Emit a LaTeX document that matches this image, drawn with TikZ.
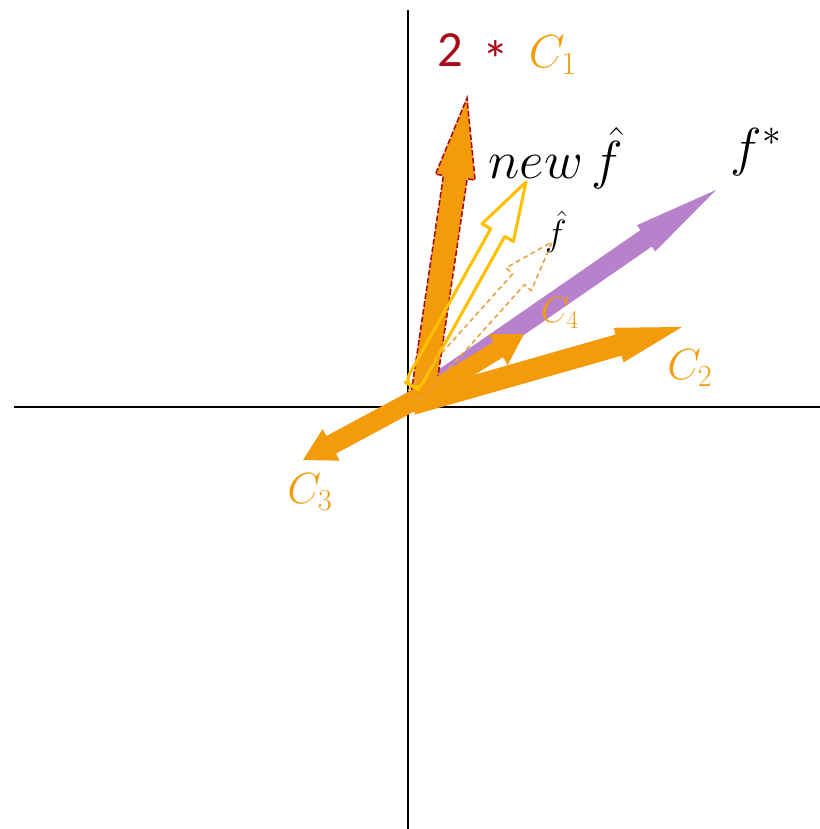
\RequirePackage{fix-cm}
\documentclass[tikz,border=0pt]{standalone}
\usepackage{amsmath,amssymb}
\usepackage{fontspec}
\usepackage{tikz}
\usetikzlibrary{calc,positioning}

\newfontfamily\calibrifont{Carlito}

\definecolor{vecorange}{RGB}{243,155,10}
\definecolor{vecpurple}{RGB}{184,129,204}
\definecolor{vecyellow}{RGB}{255,192,0}
\definecolor{vecdash}{RGB}{234,160,62}
\definecolor{vecred}{RGB}{168,8,24}

\newcommand{\pxu}{0.025cm}

% block arrow: style, tail, tip, shaft half width, head half width, head length (px)
\newcommand{\blockarrow}[6]{%
  \coordinate (#3-base) at ($(#3)!#6*\pxu!(#2)$);
  \path[#1] ($(#2)!#4*\pxu!90:(#3)$)
    -- ($(#3-base)!#4*\pxu!90:(#3)$)
    -- ($(#3-base)!#5*\pxu!90:(#3)$)
    -- (#3)
    -- ($(#3-base)!#5*\pxu!-90:(#3)$)
    -- ($(#3-base)!#4*\pxu!-90:(#3)$)
    -- ($(#2)!#4*\pxu!-90:(#3)$)
    -- cycle;}

% same, with a rounded tail
\newcommand{\roundarrow}[6]{%
  \coordinate (#3-base) at ($(#3)!#6*\pxu!(#2)$);
  \path[#1] (#2) [rounded corners=#4*\pxu] -- ($(#2)!#4*\pxu!90:(#3)$)
    [sharp corners] -- ($(#3-base)!#4*\pxu!90:(#3)$)
    -- ($(#3-base)!#5*\pxu!90:(#3)$)
    -- (#3)
    -- ($(#3-base)!#5*\pxu!-90:(#3)$)
    -- ($(#3-base)!#4*\pxu!-90:(#3)$)
    [rounded corners=#4*\pxu] -- ($(#2)!#4*\pxu!-90:(#3)$)
    -- cycle;}

\tikzset{
  axis/.style={line width=1.8pt, black},
  cvec/.style={fill=vecorange},
  fstar/.style={fill=vecpurple},
  newfhat/.style={draw=vecyellow, line width=2.2pt, line join=round},
  oldfhat/.style={draw=vecdash, line width=1.1pt, dash pattern=on 3.5pt off 2.5pt},
  clabel/.style={text=vecorange, inner sep=0pt}
}

\begin{document}
\begin{tikzpicture}[x=0.025cm, y=-0.025cm]
    \useasboundingbox (0,0) rectangle (820,829);

    % Axes
    \coordinate (ytop) at (408,10);
    \coordinate (ybot) at (408,829);
    \coordinate (xleft) at (14,407);
    \coordinate (xright) at (820,407);
    \draw[axis] (ytop) -- (ybot);
    \draw[axis] (xleft) -- (xright);

    % Tails and tips
    \coordinate (c1tail) at (422,402);  \coordinate (c1tip) at (467,98);
    \coordinate (c2tail) at (412,404);  \coordinate (c2tip) at (682,327);
    \coordinate (c3tail) at (420,397);  \coordinate (c3tip) at (303,460);
    \coordinate (c4tail) at (414,401);  \coordinate (c4tip) at (524,334);
    \coordinate (fstail) at (418,396);  \coordinate (fstip) at (716,190);
    \coordinate (nftail) at (412,386);  \coordinate (nftip) at (526,182);
    \coordinate (fhtail) at (414,396);  \coordinate (fhtip) at (552,242);

    % Target f*
    \blockarrow{fstar}{fstail}{fstip}{10}{16}{85}

    % Scaled C1 with dashed red border
    \blockarrow{cvec, draw=vecred, line width=1.1pt, dash pattern=on 4pt off 1.6pt}{c1tail}{c1tip}{12}{20}{80}

    % Remaining components
    \blockarrow{cvec}{c2tail}{c2tip}{11}{18}{66}
    \blockarrow{cvec}{c3tail}{c3tip}{10}{18}{32}
    \blockarrow{cvec}{c4tail}{c4tip}{9}{18}{30}

    % Old and new estimates
    \roundarrow{newfhat}{nftail}{nftip}{8}{18}{58}
    \blockarrow{oldfhat}{fhtail}{fhtip}{8}{17}{50}

    % Labels
    \node[text=vecred, font=\calibrifont\fontsize{36}{40}\selectfont] (two) at (450,50) {2};
    \node[text=vecred, font=\calibrifont\fontsize{38}{40}\selectfont] (times) at (496,60) {*};
    \node[clabel, font=\fontsize{33}{36}\selectfont] (c1lbl) at (553,55) {$C_1$};
    \node[clabel, font=\fontsize{31}{34}\selectfont] (c2lbl) at (690,368) {$C_2$};
    \node[clabel, font=\fontsize{31}{34}\selectfont] (c3lbl) at (310,492) {$C_3$};
    \node[clabel, font=\fontsize{26}{30}\selectfont] (c4lbl) at (560,313) {$C_4$};
    \node[inner sep=0pt, font=\fontsize{38}{42}\selectfont] (newlbl) at (556,158) {$new\,\hat{f}$};
    \node[inner sep=0pt, font=\fontsize{38}{42}\selectfont] (fstarlbl) at (756,152) {$f^{*}$};
    \node[inner sep=0pt, font=\fontsize{26}{30}\selectfont] (fhatlbl) at (556,232) {$\hat{f}$};
\end{tikzpicture}
\end{document}
